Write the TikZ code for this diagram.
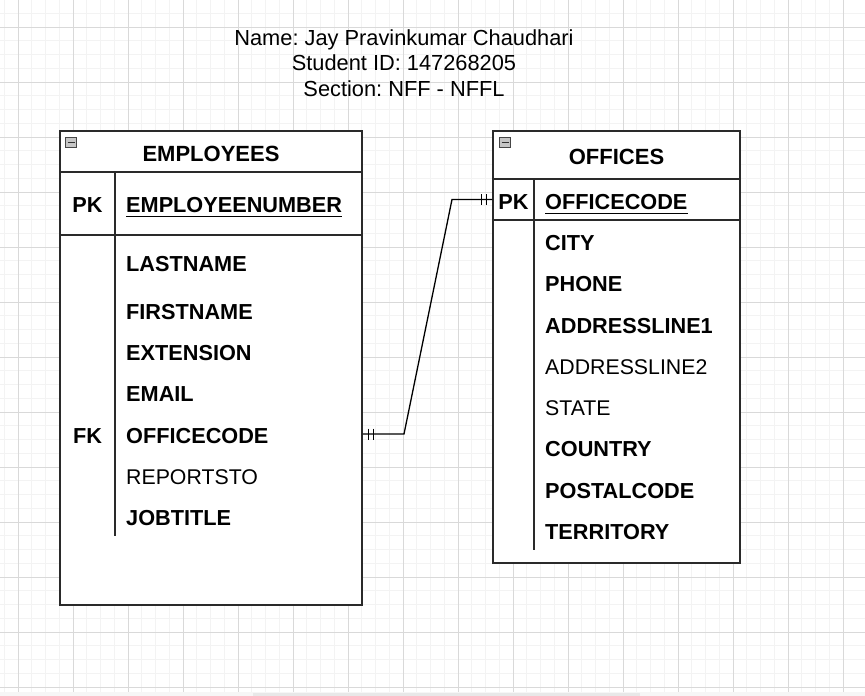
\documentclass[tikz,border=0pt]{standalone}
\usepackage{fontspec}
\setmainfont{Liberation Sans}
\usetikzlibrary{calc}
\frenchspacing
\definecolor{minorgrid}{HTML}{F3F3F3}
\definecolor{majorgrid}{HTML}{D9D9D9}
\definecolor{tabline}{HTML}{2A2A2A}
\tikzset{
  tabbox/.style={draw=tabline, line width=1.5pt, fill=none, inner sep=0pt},
  divline/.style={draw=tabline, line width=1.3pt},
  rowtxt/.style={anchor=west, inner sep=0pt, font=\fontsize{21.7}{26}\selectfont\bfseries},
  rowtxtn/.style={anchor=west, inner sep=0pt, font=\fontsize{21.3}{26}\selectfont},
  keytxt/.style={inner sep=0pt, font=\fontsize{21.7}{26}\selectfont\bfseries},
  headtxt/.style={inner sep=0pt, font=\fontsize{22}{26}\selectfont\bfseries},
  titletxt/.style={align=center, inner sep=0pt, font=\fontsize{21.8}{25.5}\selectfont},
  conn/.style={draw=black, line width=1.3pt},
  minusicon/.style={draw=gray!55!black, fill=gray!45, line width=0.9pt},
}
\begin{document}
\begin{tikzpicture}[x=1pt,y=-1pt]
\useasboundingbox (0,0) rectangle (865,696);
\fill[white] (0,0) rectangle (865,696);
% grid
\foreach \i in {0,...,63} {
  \draw[minorgrid, line width=0.9pt] ({18-55+13.75*\i},0) -- ({18-55+13.75*\i},696);
}
\foreach \i in {0,...,51} {
  \draw[minorgrid, line width=0.9pt] (0,{27-55+13.75*\i}) -- (865,{27-55+13.75*\i});
}
\foreach \i in {0,...,15} {
  \draw[majorgrid, line width=1pt] ({18+55*\i},0) -- ({18+55*\i},696);
}
\foreach \i in {0,...,12} {
  \draw[majorgrid, line width=1pt] (0,{27+55*\i}) -- (865,{27+55*\i});
}
% scrollbar strip
\fill[gray!7] (0,692) rectangle (865,696);
\fill[gray!18] (253,693) rectangle (640,696);

% title
\node[titletxt] (title) at (404,63) {Name: Jay Pravinkumar Chaudhari\\Student ID: 147268205\\Section: NFF - NFFL};

% EMPLOYEES table
\node[tabbox, minimum width=302pt, minimum height=474pt, fill=white] (emp) at (211,368) {};
\draw[divline] (60,172) -- (362,172);
\draw[divline] (60,235) -- (362,235);
\draw[divline] (115,172) -- (115,536);
\draw[minusicon] (65.5,137.5) rectangle (76.5,147.5);
\draw[black!80, line width=1.1pt] (67.5,142.5) -- (74.5,142.5);
\node[headtxt] (emphead) at (211,154) {EMPLOYEES};
\node[keytxt] (emppk) at (87.5,205) {PK};
\node[rowtxt] (empnum) at (126,205) {EMPLOYEENUMBER};
\draw[line width=1.8pt] ($(empnum.base west)+(0,4)$) -- ($(empnum.base east)+(0,4)$);
\node[rowtxt] (lastname) at (126,264) {LASTNAME};
\node[rowtxt] (firstname) at (126,312) {FIRSTNAME};
\node[rowtxt] (extension) at (126,353) {EXTENSION};
\node[rowtxt] (email) at (126,394) {EMAIL};
\node[keytxt] (empfk) at (87.5,436) {FK};
\node[rowtxt] (empoff) at (126,436) {OFFICECODE};
\node[rowtxtn] (reportsto) at (126,477) {REPORTSTO};
\node[rowtxt] (jobtitle) at (126,518) {JOBTITLE};

% OFFICES table
\node[tabbox, minimum width=247pt, minimum height=432pt, fill=white] (off) at (616.5,347) {};
\draw[divline] (493,179) -- (740,179);
\draw[divline] (493,220) -- (740,220);
\draw[divline] (534,179) -- (534,550);
\draw[minusicon] (499.5,137.5) rectangle (510.5,147.5);
\draw[black!80, line width=1.1pt] (501.5,142.5) -- (508.5,142.5);
\node[headtxt] (offhead) at (616.5,157) {OFFICES};
\node[keytxt] (offpk) at (513.5,202) {PK};
\node[rowtxt] (offcode) at (545,202) {OFFICECODE};
\draw[line width=1.8pt] ($(offcode.base west)+(0,4)$) -- ($(offcode.base east)+(0,4)$);
\node[rowtxt] (city) at (545,243) {CITY};
\node[rowtxt] (phone) at (545,284) {PHONE};
\node[rowtxt] (addr1) at (545,326) {ADDRESSLINE1};
\node[rowtxtn] (addr2) at (545,367) {ADDRESSLINE2};
\node[rowtxtn] (state) at (545,408) {STATE};
\node[rowtxt] (country) at (545,449) {COUNTRY};
\node[rowtxt] (postal) at (545,491) {POSTALCODE};
\node[rowtxt] (territory) at (545,532) {TERRITORY};

% connector
\coordinate (ca) at (emp.east |- 0,434);
\coordinate (cb) at (off.west |- 0,199.5);
\draw[conn] (ca) -- (404,434) -- (452,199.5) -- (cb);
\draw[conn] ($(ca)+(6,-5.5)$) -- ($(ca)+(6,5.5)$);
\draw[conn] ($(ca)+(11,-5.5)$) -- ($(ca)+(11,5.5)$);
\draw[conn] ($(cb)+(-6,-5.5)$) -- ($(cb)+(-6,5.5)$);
\draw[conn] ($(cb)+(-11,-5.5)$) -- ($(cb)+(-11,5.5)$);
\end{tikzpicture}
\end{document}
